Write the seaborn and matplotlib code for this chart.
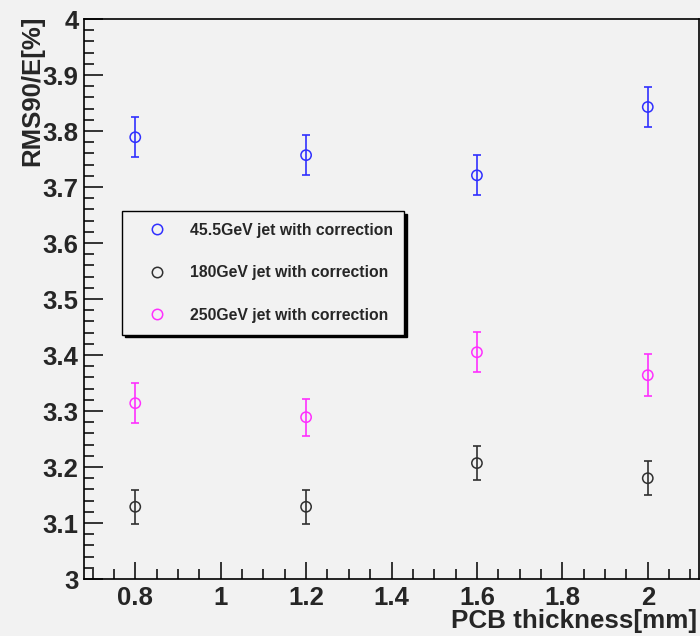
import pandas as pd
import matplotlib
matplotlib.use('Agg')
import matplotlib.pyplot as plt
from matplotlib.ticker import MultipleLocator, FuncFormatter
from matplotlib.lines import Line2D
import seaborn as sns

# values
thickness = [0.8, 1.2, 1.6, 2.0]
rms_45 = [3.789, 3.757, 3.721, 3.843]
err_45 = [0.036, 0.036, 0.036, 0.036]
rms_180 = [3.129, 3.129, 3.207, 3.180]
err_180 = [0.030, 0.030, 0.031, 0.030]
rms_250 = [3.314, 3.289, 3.405, 3.364]
err_250 = [0.036, 0.033, 0.036, 0.037]

labels = ["45.5GeV jet with correction", "180GeV jet with correction",
          "250GeV jet with correction"]
colors = ["#3030ff", "#303030", "#ff30ff"]

rows = []
for lab, vals, errs in zip(labels, [rms_45, rms_180, rms_250], [err_45, err_180, err_250]):
    for t, v, e in zip(thickness, vals, errs):
        rows.append({"thickness": t, "rms": v, "err": e, "sample": lab})
df = pd.DataFrame(rows)

bg = "#f2f2f2"
sns.set_style("ticks")
plt.rcParams['font.family'] = ['Liberation Sans', 'DejaVu Sans']
plt.rcParams['font.weight'] = 'bold'

fig = plt.figure(figsize=(7, 6.36), dpi=100, facecolor=bg)
ax = fig.add_axes([0.12, 0.0896, 0.8786, 0.8804])
ax.set_facecolor(bg)

for lab, c in zip(labels, colors):
    sub = df[df["sample"] == lab]
    ax.errorbar(sub["thickness"], sub["rms"], yerr=sub["err"], fmt="none",
                ecolor=c, elinewidth=1.2, capsize=2.6, capthick=1.2, zorder=2)

sns.scatterplot(data=df, x="thickness", y="rms", hue="sample", palette=colors,
                s=55, marker="o", linewidth=1.1, legend=False, ax=ax, zorder=3)
pts = ax.collections[-1]
pts.set_edgecolors(pts.get_facecolors())
pts.set_facecolors("none")

ax.set_xlim(0.68, 2.12)
ax.set_ylim(3.0, 4.0)
ax.xaxis.set_major_locator(MultipleLocator(0.2))
ax.xaxis.set_minor_locator(MultipleLocator(0.05))
ax.yaxis.set_major_locator(MultipleLocator(0.1))
ax.yaxis.set_minor_locator(MultipleLocator(0.02))
fmt = FuncFormatter(lambda v, p: "%g" % round(v, 2))
ax.xaxis.set_major_formatter(fmt)
ax.yaxis.set_major_formatter(fmt)
ax.tick_params(which="both", direction="in", top=False, right=False,
               width=1.1, color="black", labelsize=18.5)
ax.tick_params(axis="y", which="major", length=14, pad=4)
ax.tick_params(axis="y", which="minor", length=7)
ax.tick_params(axis="x", which="major", length=12, pad=5)
ax.tick_params(axis="x", which="minor", length=7)
for lbl in ax.get_xticklabels() + ax.get_yticklabels():
    lbl.set_fontweight("bold")
for s in ax.spines.values():
    s.set_color("black")
    s.set_linewidth(1.2)
ax.set_xlabel("")
ax.set_ylabel("")

fig.text(0.996, 0.004, "PCB thickness[mm]", ha="right", va="bottom",
         fontsize=18.7, fontweight="bold")
fig.text(0.046, 0.975, "RMS90/E[%]", ha="center", va="top", rotation=90,
         fontsize=18.5, fontweight="bold")

handles = [Line2D([], [], ls="none", marker="o", mfc="none", mec=c, ms=7.5, mew=1.1)
           for c in colors]
leg = ax.legend(handles, labels, loc="upper left", bbox_to_anchor=(0.062, 0.657),
                borderaxespad=0, frameon=True, fancybox=False, framealpha=1,
                facecolor=bg, edgecolor="black",
                prop={"weight": "bold", "size": 11.3},
                labelspacing=1.75, borderpad=0.75, handlelength=3.0,
                handletextpad=0.55, shadow={"color": "black", "alpha": 1})
leg.get_frame().set_linewidth(1.0)

fig.savefig("out.png", dpi=100, facecolor=bg)
plt.close()
